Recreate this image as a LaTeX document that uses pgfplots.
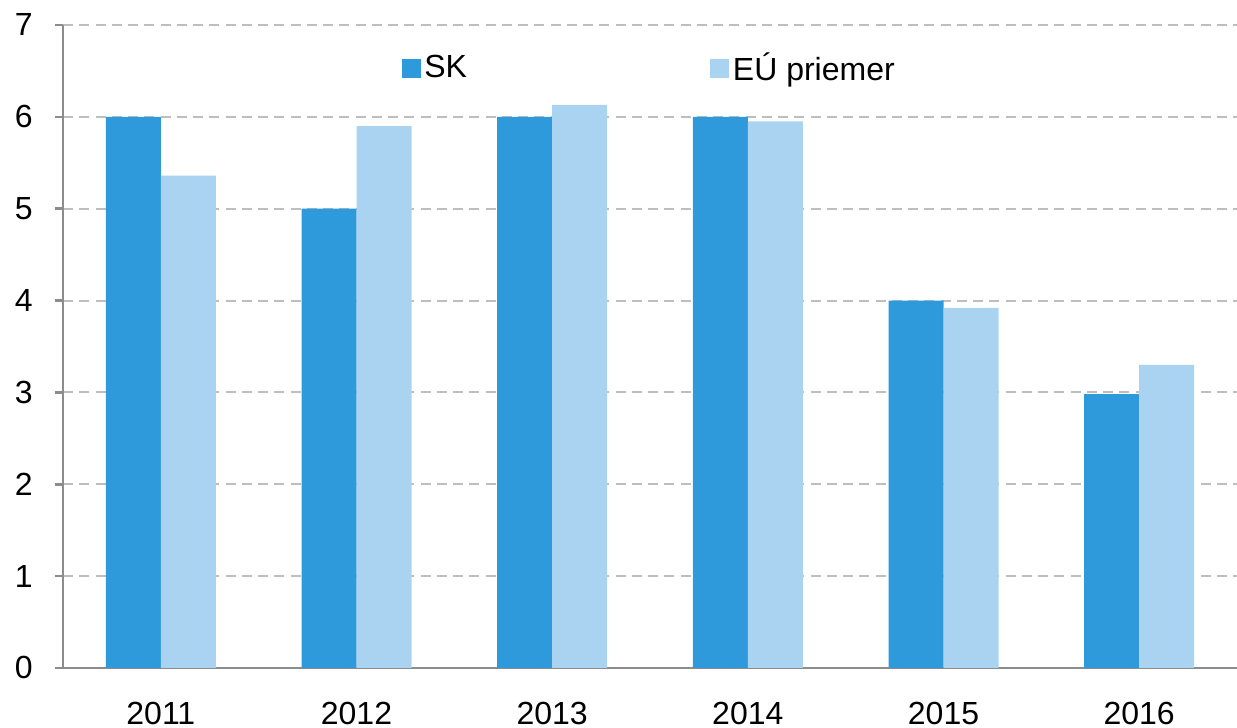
\documentclass[border=0pt]{standalone}
\usepackage{pgfplots}
\pgfplotsset{compat=1.18}
\usepackage{fontspec}
\setmainfont{Liberation Sans}
\definecolor{skblue}{RGB}{46,154,220}
\definecolor{eublue}{RGB}{170,211,242}
\definecolor{gridgray}{RGB}{190,190,190}
\definecolor{axgray}{RGB}{140,140,140}
\begin{document}
\fontsize{12.8}{15}\selectfont
\begin{tikzpicture}
\begin{axis}[
  scale only axis,
  width=469.6pt, height=257.2pt,
  xmin=-0.5, xmax=5.5, ymin=0, ymax=7,
  ybar=0pt, bar width=22pt,
  axis x line*=bottom, axis y line*=left,
  axis line style={axgray, line width=1pt},
  xtick={0,...,5},
  xticklabels={2011,2012,2013,2014,2015,2016},
  minor xtick={-0.5,0.5,1.5,2.5,3.5,4.5},
  xtick style={draw=none},
  minor x tick style={axgray, line width=1pt},
  ytick={0,...,7},
  ytick style={axgray, line width=1pt},
  tick align=outside,
  major tick length=3.2pt,
  minor tick length=5.2pt,
  ymajorgrids,
  grid style={gridgray, dashed, line width=0.8pt, dash pattern=on 4pt off 2.5pt},
  tick label style={font=\fontsize{12.8}{15}\selectfont},
  /pgf/number format/assume math mode=true,
  xticklabel style={yshift=-6pt},
  yticklabel style={xshift=-4.5pt},
  legend columns=2,
  legend style={at={(0.5,0.932)}, anchor=center, draw=none, fill=none,
    font=\fontsize{12.8}{15}\selectfont,
    /tikz/every even column/.append style={column sep=96pt},
    nodes={inner sep=1.4pt}},
  legend image code/.code={\fill[#1] (0pt,-3.8pt) rectangle (7.6pt,3.8pt);},
]
\addplot[fill=skblue, draw=none] coordinates {(0,6) (1,5) (2,6) (3,6) (4,4) (5,2.98)};
\addplot[fill=eublue, draw=none] coordinates {(0,5.36) (1,5.9) (2,6.13) (3,5.95) (4,3.92) (5,3.3)};
\legend{SK, EÚ priemer}
\end{axis}
\pgfresetboundingbox
\path ([shift={(-25.2pt,-24pt)}]current axis.south west) rectangle ([shift={(0pt,10pt)}]current axis.north east);
\end{tikzpicture}
\end{document}
